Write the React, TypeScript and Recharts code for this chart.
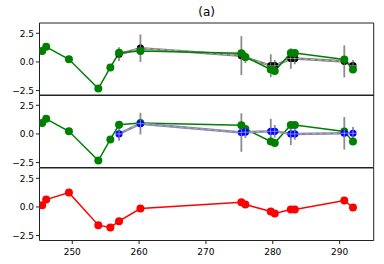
import { LineChart, Line, XAxis, YAxis, ErrorBar } from 'recharts';

const days = [245.5, 246.1, 249.5, 253.9, 255.7, 257.0, 260.2, 275.3, 275.9, 279.7, 280.3, 282.7, 283.3, 290.7, 292.0];
const greenVals = [0.95, 1.32, 0.23, -2.32, -0.48, 0.8, 0.96, 0.76, 0.44, -0.66, -0.78, 0.78, 0.78, 0.22, -0.67];
const redVals = [0.15, 0.64, 1.25, -1.59, -1.79, -1.24, -0.14, 0.41, 0.21, -0.4, -0.57, -0.23, -0.23, 0.56, -0.05];

const fitDays = [257.0, 260.2, 275.3, 275.9, 279.7, 280.3, 282.7, 283.3, 290.7, 292.0];
const blackVals = [0.68, 1.2, 0.55, 0.4, -0.33, -0.33, 0.3, 0.3, 0.05, -0.32];
const blackErr = [0.6, 1.2, 1.7, 0.5, 1.0, 0.5, 0.9, 0.5, 1.4, 0.5];
const blueVals = [0.0, 0.9, 0.12, 0.15, 0.23, 0.23, 0.0, 0.0, 0.06, 0.06];
const blueErr = [0.6, 0.95, 1.68, 0.5, 1.09, 0.55, 0.97, 0.5, 1.42, 0.54];

const xTicks = [250, 260, 270, 280, 290];
const yTicks = [-2.5, 0, 2.5];

const rows = days.map((day, i) => {
  const j = fitDays.indexOf(day);
  return {
    day,
    green: greenVals[i],
    red: redVals[i],
    black: j < 0 ? null : blackVals[j],
    blackErr: j < 0 ? null : blackErr[j],
    blue: j < 0 ? null : blueVals[j],
    blueErr: j < 0 ? null : blueErr[j],
  };
});

const W = 384;
const PLOT_LEFT = 39.5;
const PLOT_RIGHT = 373.7;
const PANEL_H = 72.5;
const PAD = 3;
const X_AXIS_H = 22;
const TOPS = [22.7, 95.2, 167.7];

const fmtY = (v: number) => (v < 0 ? '\u2212' + Math.abs(v).toFixed(1) : v.toFixed(1));

const crossDot = (color: string) => (props: any) => {
  const { cx, cy, index, value } = props;
  if (cx == null || cy == null || value == null) return <g key={index} />;
  return (
    <g key={index}>
      <circle cx={cx} cy={cy} r={3.6} fill={color} />
      <line x1={cx - 3.6} x2={cx + 3.6} y1={cy} y2={cy} stroke='#fff' strokeWidth={0.7} strokeOpacity={0.7} />
      <line x1={cx} x2={cx} y1={cy - 3.6} y2={cy + 3.6} stroke='#fff' strokeWidth={0.7} strokeOpacity={0.7} />
    </g>
  );
};

// axes of size 0 are not drawn, so the frame axes get 1px and the margins give it back
const Panel = ({ top, showX, children }: { top: number; showX?: boolean; children: any }) => {
  const h = PANEL_H + PAD * 2 + (showX ? X_AXIS_H : 0);
  return (
    <div style={{ position: 'absolute', left: 0, top: top - PAD }}>
      <LineChart
        width={W}
        height={h}
        data={rows}
        margin={{ top: PAD - 1, right: W - PLOT_RIGHT - 1, bottom: showX ? PAD : PAD - 1, left: 0 }}
      >
        <XAxis
          dataKey='day'
          type='number'
          domain={[245.1, 295.1]}
          allowDataOverflow
          ticks={xTicks}
          tick={showX ? { fill: '#000', fontSize: 9 } : false}
          tickLine={!!showX}
          tickSize={3.5}
          tickMargin={5}
          height={showX ? X_AXIS_H : 1}
          stroke='#222'
        />
        <XAxis
          xAxisId='top'
          orientation='top'
          dataKey='day'
          type='number'
          domain={[245.1, 295.1]}
          allowDataOverflow
          tick={false}
          tickLine={false}
          height={1}
          stroke='#222'
        />
        <YAxis
          type='number'
          domain={[-2.93, 3.4]}
          allowDataOverflow
          ticks={yTicks}
          tickFormatter={fmtY}
          tick={{ fill: '#000', fontSize: 9 }}
          tickSize={3.5}
          tickMargin={2}
          width={PLOT_LEFT}
          stroke='#222'
        />
        <YAxis
          yAxisId='r'
          orientation='right'
          type='number'
          domain={[-2.93, 3.4]}
          tick={false}
          tickLine={false}
          width={1}
          stroke='#222'
        />
        {children}
      </LineChart>
    </div>
  );
};

const fitLines = (key: string, errKey: string, color: string, base: string, dash: string) => [
  <Line
    key={key + 'base'}
    dataKey={key}
    stroke={base}
    strokeWidth={2.6}
    dot={crossDot(color)}
    activeDot={false}
    isAnimationActive={false}
  >
    <ErrorBar dataKey={errKey} width={0} stroke='#8c8c8c' strokeWidth={1.8} direction='y' />
  </Line>,
  <Line
    key={key + 'dash'}
    dataKey={key}
    stroke={dash}
    strokeWidth={1.2}
    strokeDasharray='4 3'
    dot={false}
    activeDot={false}
    isAnimationActive={false}
  />,
];

const greenLine = (
  <Line
    key='green'
    dataKey='green'
    stroke='#008000'
    strokeWidth={1.5}
    dot={{ r: 4, fill: '#008000', stroke: '#008000', strokeWidth: 0 }}
    activeDot={false}
    isAnimationActive={false}
  />
);

export default function App() {
  return (
    <div
      style={{
        position: 'absolute',
        left: 0,
        top: 0,
        width: W,
        height: 264,
        background: '#fff',
        fontFamily: '"DejaVu Sans", sans-serif',
      }}
    >
      <div
        style={{
          position: 'absolute',
          left: PLOT_LEFT,
          width: PLOT_RIGHT - PLOT_LEFT,
          top: 5,
          textAlign: 'center',
          fontSize: 12,
          color: '#000',
        }}
      >
        (a)
      </div>
      <Panel top={TOPS[0]}>
        {fitLines('black', 'blackErr', '#000000', '#7f7f7f', '#b4b4b4')}
        {greenLine}
      </Panel>
      <Panel top={TOPS[1]}>
        {greenLine}
        {fitLines('blue', 'blueErr', '#0000ff', '#8484b4', '#a8a8a8')}
      </Panel>
      <Panel top={TOPS[2]} showX>
        <Line
          dataKey='red'
          stroke='#ff0000'
          strokeWidth={1.5}
          dot={{ r: 4, fill: '#ff0000', stroke: '#ff0000', strokeWidth: 0 }}
          activeDot={false}
          isAnimationActive={false}
        />
      </Panel>
    </div>
  );
}
